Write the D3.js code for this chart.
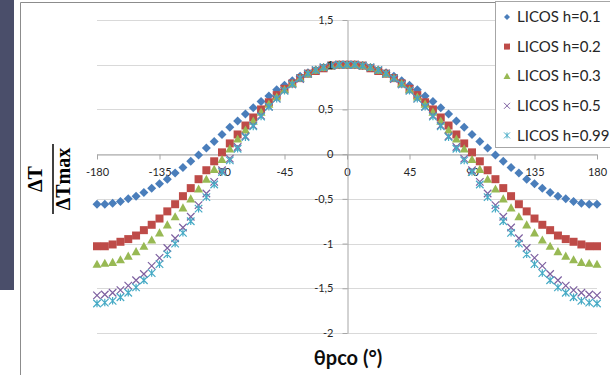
<!DOCTYPE html>
<html>
<head>
<meta charset="utf-8">
<script src="https://cdnjs.cloudflare.com/ajax/libs/d3/7.8.5/d3.min.js"></script>
<style>
    body { margin: 0; background: #ffffff; }
    #chart { width: 610px; height: 375px; overflow: hidden; }
</style>
</head>
<body>
<div id="chart"></div>
<script>

// angle theta pco (deg)
let angles = [-180, -174.375, -168.75, -163.125, -157.5, -151.875, -146.25, -140.625, -135,
    -129.375, -123.75, -118.125, -112.5, -106.875, -101.25, -95.625, -90,
    -84.375, -78.75, -73.125, -67.5, -61.875, -56.25, -50.625, -45,
    -39.375, -33.75, -28.125, -22.5, -16.875, -11.25, -5.625, 0,
    5.625, 11.25, 16.875, 22.5, 28.125, 33.75, 39.375, 45,
    50.625, 56.25, 61.875, 67.5, 73.125, 78.75, 84.375, 90,
    95.625, 101.25, 106.875, 112.5, 118.125, 123.75, 129.375, 135,
    140.625, 146.25, 151.875, 157.5, 163.125, 168.75, 174.375, 180];

let licos_01 = [-0.56, -0.56, -0.55, -0.53, -0.50, -0.47, -0.43, -0.38, -0.33, -0.28, -0.21, -0.15, -0.08, -0.01, 0.07, 0.14,
    0.22, 0.30, 0.37, 0.45, 0.52, 0.59, 0.65, 0.72, 0.77, 0.82, 0.87, 0.91, 0.94, 0.97, 0.99, 1.00,
    1.00,
    1.00, 0.99, 0.97, 0.94, 0.91, 0.87, 0.82, 0.77, 0.72, 0.65, 0.59, 0.52, 0.45, 0.37, 0.30, 0.22,
    0.14, 0.07, -0.01, -0.08, -0.15, -0.21, -0.28, -0.33, -0.38, -0.43, -0.47, -0.50, -0.53, -0.55, -0.56, -0.56];

let licos_02 = [-1.03, -1.03, -1.01, -0.98, -0.95, -0.91, -0.85, -0.79, -0.72, -0.64, -0.56, -0.47, -0.38, -0.28, -0.18, -0.08,
    0.02, 0.12, 0.22, 0.32, 0.41, 0.50, 0.58, 0.66, 0.73, 0.79, 0.85, 0.90, 0.93, 0.96, 0.99, 1.00,
    1.00,
    1.00, 0.99, 0.96, 0.93, 0.90, 0.85, 0.79, 0.73, 0.66, 0.58, 0.50, 0.41, 0.32, 0.22, 0.12, 0.02,
    -0.08, -0.18, -0.28, -0.38, -0.47, -0.56, -0.64, -0.72, -0.79, -0.85, -0.91, -0.95, -0.98, -1.01, -1.03, -1.03];

let licos_03 = [-1.23, -1.22, -1.21, -1.18, -1.14, -1.09, -1.03, -0.96, -0.88, -0.79, -0.70, -0.60, -0.50, -0.39, -0.28, -0.17,
    -0.06, 0.06, 0.17, 0.27, 0.37, 0.47, 0.56, 0.64, 0.72, 0.79, 0.85, 0.90, 0.94, 0.97, 0.99, 1.00,
    1.00,
    1.00, 0.99, 0.97, 0.94, 0.90, 0.85, 0.79, 0.72, 0.64, 0.56, 0.47, 0.37, 0.27, 0.17, 0.06, -0.06,
    -0.17, -0.28, -0.39, -0.50, -0.60, -0.70, -0.79, -0.88, -0.96, -1.03, -1.09, -1.14, -1.18, -1.21, -1.22, -1.23];

let licos_05 = [-1.58, -1.57, -1.55, -1.52, -1.47, -1.41, -1.34, -1.25, -1.16, -1.05, -0.94, -0.82, -0.70, -0.57, -0.44, -0.31,
    -0.18, -0.05, 0.08, 0.20, 0.32, 0.43, 0.53, 0.62, 0.71, 0.78, 0.84, 0.90, 0.94, 0.97, 0.99, 1.00,
    1.00,
    1.00, 0.99, 0.97, 0.94, 0.90, 0.84, 0.78, 0.71, 0.62, 0.53, 0.43, 0.32, 0.20, 0.08, -0.05, -0.18,
    -0.31, -0.44, -0.57, -0.70, -0.82, -0.94, -1.05, -1.16, -1.25, -1.34, -1.41, -1.47, -1.52, -1.55, -1.57, -1.58];

let licos_099 = [-1.67, -1.66, -1.64, -1.60, -1.55, -1.49, -1.41, -1.33, -1.23, -1.12, -1.00, -0.88, -0.75, -0.61, -0.48, -0.34,
    -0.20, -0.07, 0.06, 0.19, 0.31, 0.42, 0.53, 0.62, 0.71, 0.78, 0.85, 0.90, 0.94, 0.97, 0.99, 1.00,
    1.00,
    1.00, 0.99, 0.97, 0.94, 0.90, 0.85, 0.78, 0.71, 0.62, 0.53, 0.42, 0.31, 0.19, 0.06, -0.07, -0.20,
    -0.34, -0.48, -0.61, -0.75, -0.88, -1.00, -1.12, -1.23, -1.33, -1.41, -1.49, -1.55, -1.60, -1.64, -1.66, -1.67];

let series_names = ["LICOS h=0.1", "LICOS h=0.2", "LICOS h=0.3", "LICOS h=0.5", "LICOS h=0.99"];
let series_values = [licos_01, licos_02, licos_03, licos_05, licos_099];

let x_ticks = [-180, -135, -90, -45, 0, 45, 90, 135, 180];
let y_ticks = [-2, -1.5, -1, -0.5, 0, 0.5, 1, 1.5];

main();

function main() {

    let width = 610;
    let height = 375;

    let colors = ["#4a7ebb", "#be4b48", "#98b954", "#7d60a0", "#46aac5"];
    let shapes = ["diamond", "square", "triangle", "cross", "star"];

    let svg = d3.select("#chart")
        .append("svg")
        .attr("width", width)
        .attr("height", height);

    //dark strip on the left (slide background)
    svg.append("rect")
        .attr("x", 0)
        .attr("y", 0)
        .attr("width", 14)
        .attr("height", 290)
        .attr("fill", "#4a4e6a");

    //chart area border
    svg.append("path")
        .attr("d", "M20.5,375 L20.5,2.5 L610,2.5")
        .attr("fill", "none")
        .attr("stroke", "#8c8c8c")
        .attr("stroke-width", 1);

    let x = d3.scaleLinear().domain([-180, 180]).range([97, 597]);
    let y = d3.scaleLinear().domain([-2, 1.5]).range([333, 20]);

    let fmt = (d) => String(d).replace(".", ",");

    //gridlines
    svg.append("g").attr("class", "grid")
        .selectAll("line")
        .data(y_ticks)
        .enter()
        .append("line")
        .attr("x1", x(-180))
        .attr("x2", x(180))
        .attr("y1", (d) => Math.round(y(d)) + 0.5)
        .attr("y2", (d) => Math.round(y(d)) + 0.5)
        .attr("stroke", "#d9d9d9")
        .attr("stroke-width", 1);

    //x axis on y = 0
    let x_axis = svg.append("g")
        .attr("transform", "translate(0," + (Math.round(y(0)) + 0.5) + ")")
        .call(d3.axisBottom(x).tickValues(x_ticks).tickSize(5).tickSizeOuter(0).tickPadding(9).tickFormat(fmt));

    //y axis on x = 0
    let y_axis = svg.append("g")
        .attr("transform", "translate(" + (Math.round(x(0)) + 0.5) + ",0)")
        .call(d3.axisLeft(y).tickValues(y_ticks).tickSize(5).tickSizeOuter(0).tickPadding(9).tickFormat(fmt));

    [x_axis, y_axis].forEach((ax) => {
        ax.select(".domain").attr("stroke", "#a6a6a6");
        ax.selectAll(".tick line").attr("stroke", "#a6a6a6");
        ax.selectAll(".tick text")
            .attr("fill", "#262626")
            .style("font-family", "Lato, 'Liberation Sans', sans-serif")
            .style("font-size", "11px");
    });

    //series markers
    function marker(shape, s) {
        let h = s / 2;
        if (shape === "diamond")
            return "M0," + (-h) + "L" + h + ",0L0," + h + "L" + (-h) + ",0Z";
        if (shape === "square")
            return "M" + (-h) + "," + (-h) + "h" + s + "v" + s + "h" + (-s) + "Z";
        if (shape === "triangle")
            return "M0," + (-h) + "L" + h + "," + (h * 0.8) + "L" + (-h) + "," + (h * 0.8) + "Z";
        if (shape === "cross")
            return "M" + (-h) + "," + (-h) + "L" + h + "," + h + "M" + (-h) + "," + h + "L" + h + "," + (-h);
        return "M" + (-h) + "," + (-h) + "L" + h + "," + h + "M" + (-h) + "," + h + "L" + h + "," + (-h) +
            "M0," + (-h) + "L0," + h;
    }

    let marker_size = [9, 8, 9, 7.5, 7.5];
    let legend_size = [6, 6, 7, 6, 6];

    let plot_g = svg.append("g").attr("class", "series");

    series_values.forEach((vals, k) => {
        let filled = k < 3;
        plot_g.append("g")
            .selectAll("path")
            .data(vals.map((v, i) => ({a: angles[i], v: v})))
            .enter()
            .append("path")
            .attr("transform", (d) => "translate(" + x(d.a) + "," + y(d.v) + ")")
            .attr("d", marker(shapes[k], marker_size[k]))
            .attr("fill", filled ? colors[k] : "none")
            .attr("stroke", filled ? "none" : colors[k])
            .attr("stroke-width", 1.2);
    });

    //value labels of the vertical axis sit above the markers
    y_axis.selectAll(".tick text").raise();
    svg.append(() => y_axis.node().cloneNode(false))
        .attr("class", "y_labels")
        .each(function () {
            let node = this;
            y_axis.selectAll(".tick").each(function () {
                let t = d3.select(this).select("text").node();
                let g = document.createElementNS("http://www.w3.org/2000/svg", "g");
                g.setAttribute("transform", this.getAttribute("transform"));
                g.appendChild(t);
                node.appendChild(g);
            });
        });

    //legend
    let legend = svg.append("g").attr("class", "legend");

    legend.append("rect")
        .attr("x", 495.5)
        .attr("y", 1.5)
        .attr("width", 130)
        .attr("height", 146)
        .attr("fill", "#ffffff")
        .attr("stroke", "#a6a6a6");

    let lg_item = legend.selectAll(".item")
        .data(series_names)
        .enter()
        .append("g")
        .attr("class", "item")
        .attr("transform", (d, i) => "translate(507," + (17 + i * 29.6) + ")");

    lg_item.append("path")
        .attr("d", (d, i) => marker(shapes[i], legend_size[i]))
        .attr("fill", (d, i) => i < 3 ? colors[i] : "none")
        .attr("stroke", (d, i) => i < 3 ? "none" : colors[i])
        .attr("stroke-width", 1);

    lg_item.append("text")
        .attr("x", 10)
        .attr("dy", "0.35em")
        .attr("fill", "#262626")
        .style("font-family", "Lato, 'Liberation Sans', sans-serif")
        .style("font-size", "15px")
        .text((d) => d);

    //axis titles
    svg.append("text")
        .attr("x", 348)
        .attr("y", 365)
        .attr("text-anchor", "middle")
        .attr("fill", "#0d0d0d")
        .style("font-family", "Lato, 'Liberation Sans', sans-serif")
        .style("font-weight", "bold")
        .style("font-size", "20px")
        .text("θpco (°)");

    let y_title = svg.append("g")
        .attr("transform", "translate(0,179) rotate(-90)");

    y_title.append("text")
        .attr("x", 0)
        .attr("y", 42)
        .attr("text-anchor", "middle")
        .style("font-family", "'Liberation Serif', 'DejaVu Serif', serif")
        .style("font-weight", "bold")
        .style("font-size", "20px")
        .text("ΔT");

    y_title.append("line")
        .attr("x1", -35)
        .attr("x2", 35)
        .attr("y1", 53)
        .attr("y2", 53)
        .attr("stroke", "#000000")
        .attr("stroke-width", 1.5);

    y_title.append("text")
        .attr("x", 0)
        .attr("y", 70)
        .attr("text-anchor", "middle")
        .style("font-family", "'Liberation Serif', 'DejaVu Serif', serif")
        .style("font-weight", "bold")
        .style("font-size", "20px")
        .text("ΔTmax");
}
</script>
</body>
</html>
